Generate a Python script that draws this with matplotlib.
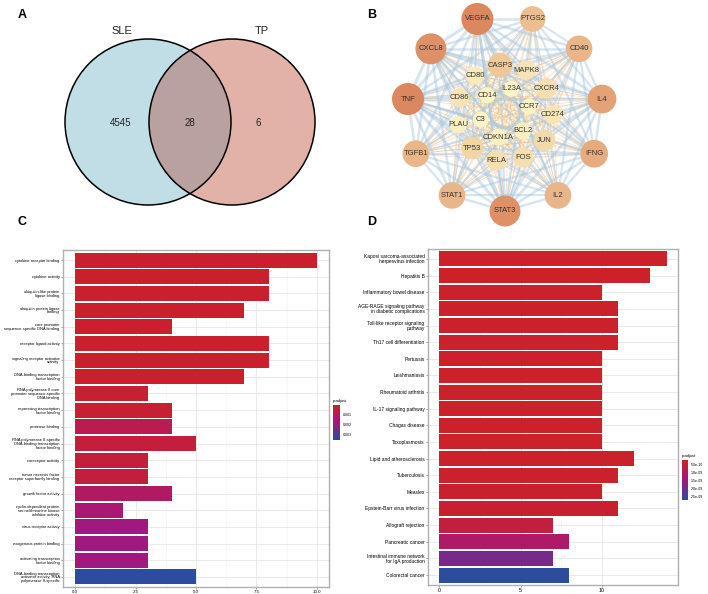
import numpy as np
import matplotlib
matplotlib.use("Agg")
import matplotlib.pyplot as plt
from matplotlib.patches import Circle
from matplotlib.collections import LineCollection
from matplotlib.colors import LinearSegmentedColormap, Normalize
from matplotlib.cm import ScalarMappable

plt.rcParams['font.family'] = ['Liberation Sans', 'DejaVu Sans']

# ---- data ----
venn_sets = ['SLE', 'TP']
venn_counts = [4545, 28, 6]   # SLE only, both, TP only

outer_nodes = ['STAT3', 'STAT1', 'TGFB1', 'TNF', 'CXCL8', 'VEGFA', 'PTGS2', 'CD40', 'IL4', 'IFNG', 'IL2']
outer_degree = [26, 22, 22, 27, 26, 27, 21, 22, 24, 23, 22]
middle_nodes = ['CASP3', 'MAPK8', 'CXCR4', 'CD274', 'JUN', 'FOS', 'RELA', 'TP53', 'PLAU', 'CD86', 'CD80']
middle_degree = [20, 15, 16, 15, 17, 16, 16, 18, 13, 15, 14]
inner_nodes = ['IL23A', 'CCR7', 'BCL2', 'CDKN1A', 'C3', 'CD14']
inner_degree = [12, 12, 13, 13, 12, 12]

go_terms = ['cytokine receptor binding', 'cytokine activity',
            'ubiquitin-like protein\nligase binding', 'ubiquitin protein ligase\nbinding',
            'core promoter\nsequence-specific DNA binding', 'receptor ligand activity',
            'signaling receptor activator\nactivity', 'DNA-binding transcription\nfactor binding',
            'RNA polymerase II core\npromoter sequence-specific\nDNA binding',
            'repressing transcription\nfactor binding', 'protease binding',
            'RNA polymerase II-specific\nDNA-binding transcription\nfactor binding',
            'coreceptor activity', 'tumor necrosis factor\nreceptor superfamily binding',
            'growth factor activity',
            'cyclin-dependent protein\nserine/threonine kinase\ninhibitor activity',
            'virus receptor activity', 'exogenous protein binding',
            'activating transcription\nfactor binding',
            'DNA-binding transcription\nactivator activity, RNA\npolymerase II-specific']
go_counts = [10, 8, 8, 7, 4, 8, 8, 7, 3, 4, 4, 5, 3, 3, 4, 2, 3, 3, 3, 5]
go_padj = [0.0002, 0.0002, 0.0002, 0.0002, 0.0002, 0.0002, 0.0002, 0.0002, 0.0003, 0.0003,
           0.0009, 0.0005, 0.0005, 0.0005, 0.0013, 0.0016, 0.0019, 0.0019, 0.0019, 0.0036]

kegg_terms = ['Kaposi sarcoma-associated\nherpesvirus infection', 'Hepatitis B',
              'Inflammatory bowel disease',
              'AGE-RAGE signaling pathway\nin diabetic complications',
              'Toll-like receptor signaling\npathway', 'Th17 cell differentiation',
              'Pertussis', 'Leishmaniasis', 'Rheumatoid arthritis', 'IL-17 signaling pathway',
              'Chagas disease', 'Toxoplasmosis', 'Lipid and atherosclerosis', 'Tuberculosis',
              'Measles', 'Epstein-Barr virus infection', 'Allograft rejection',
              'Pancreatic cancer', 'Intestinal immune network\nfor IgA production',
              'Colorectal cancer']
kegg_counts = [14, 13, 10, 11, 11, 11, 10, 10, 10, 10, 10, 10, 12, 11, 10, 11, 7, 8, 7, 8]
kegg_padj = [2.0e-10, 2.0e-10, 2.2e-10, 2.2e-10, 2.2e-10, 2.2e-10, 2.3e-10, 2.3e-10, 2.3e-10,
             2.3e-10, 2.3e-10, 2.3e-10, 2.3e-10, 2.5e-10, 2.8e-10, 3.0e-10, 5.0e-10,
             1.1e-09, 1.9e-09, 2.7e-09]

padj_cmap = LinearSegmentedColormap.from_list('padj', ['#cc2128', '#a3177f', '#2e4c9d'])
node_cmap = LinearSegmentedColormap.from_list('deg', ['#fbf4c6', '#efcd9c', '#db875f'])

fig = plt.figure(figsize=(7.08, 5.94), dpi=100)

# pixel-coordinate canvas for panels A and B
ax0 = fig.add_axes([0, 0, 1, 1])
ax0.set_xlim(0, 708)
ax0.set_ylim(594, 0)
ax0.axis('off')
ax0.patch.set_alpha(0)

for lab, x, y in [('A', 22, 15), ('B', 372, 15), ('C', 22, 222), ('D', 372, 222)]:
    ax0.text(x, y, lab, fontsize=9, fontweight='bold', ha='center', va='center')

# ---- A: venn ----
c1 = Circle((148, 122), 83, facecolor='#c1dee7', edgecolor='none')
c2 = Circle((232, 122), 83, facecolor='#e2b2a9', edgecolor='none')
ax0.add_patch(c1)
ax0.add_patch(c2)
ov = Circle((232, 122), 83, facecolor='#b9a1a0', edgecolor='none')
ax0.add_patch(ov)
ov.set_clip_path(c1)
for cx in (148, 232):
    ax0.add_patch(Circle((cx, 122), 83, facecolor='none', edgecolor='black', lw=1.1))
ax0.text(122, 31, venn_sets[0], fontsize=8, ha='center', va='center', color='#222222')
ax0.text(262, 31, venn_sets[1], fontsize=8, ha='center', va='center', color='#222222')
for x, v in zip((121, 190, 258), venn_counts):
    ax0.text(x, 123, str(v), fontsize=7, ha='center', va='center', color='#222222')

# ---- B: network (concentric layout) ----
cx, cy = 505, 113
names, degs, pos = [], [], []
for nodes, dg, r, start in [(outer_nodes, outer_degree, 98, 90),
                            (middle_nodes, middle_degree, 48, 264),
                            (inner_nodes, inner_degree, 25, 285)]:
    step = 360.0 / len(nodes)
    for k, (n, d) in enumerate(zip(nodes, dg)):
        a = np.deg2rad(start + k * step)
        names.append(n)
        degs.append(d)
        pos.append((cx + r * np.cos(a), cy + r * np.sin(a)))
degs = np.array(degs, dtype=float)
pos = np.array(pos)

segs, lws, cols = [], [], []
wmin = degs.min() ** 2
wmax = degs.max() ** 2
pairs = []
for i in range(len(names)):
    for j in range(i + 1, len(names)):
        w = (degs[i] * degs[j] - wmin) / (wmax - wmin)
        pairs.append((w, i, j))
pairs.sort()
for w, i, j in pairs:
    segs.append([pos[i], pos[j]])
    if w > 0.45:
        lws.append(0.5 + 1.8 * w)
        cols.append((0.66, 0.78, 0.87, 0.45))
    elif w > 0.2:
        lws.append(0.5)
        cols.append((0.95, 0.72, 0.50, 0.5))
    else:
        lws.append(0.4)
        cols.append((0.96, 0.88, 0.60, 0.5))
ax0.add_collection(LineCollection(segs, linewidths=lws, colors=cols, zorder=2))

dnorm = Normalize(12, 27)
for (x, y), n, d in zip(pos, names, degs):
    r = 8 + 8 * (d - 12) / 15
    ax0.add_patch(Circle((x, y), r, facecolor=node_cmap(dnorm(d)), edgecolor='none', zorder=3))
    ax0.text(x, y, n, fontsize=5.5, ha='center', va='center', color='#333333', zorder=4)


# ---- C and D: enrichment bar charts ----
def bar_panel(rect, terms, counts, padj, vmin, vmax, xmax, xticks, xticklabels, fs, cbar_rect, cticks, cticklabels):
    ax = fig.add_axes(rect)
    norm = Normalize(vmin, vmax)
    y = np.arange(len(terms))
    ax.barh(y, counts, height=0.9, color=padj_cmap(norm(np.array(padj))), zorder=3)
    ax.set_ylim(len(terms) - 0.4, -0.6)
    ax.set_xlim(-0.05 * xmax, 1.05 * xmax)
    ax.set_yticks(y)
    ax.set_yticklabels(terms, fontsize=fs, linespacing=0.95)
    ax.set_xticks(xticks)
    ax.set_xticklabels(xticklabels, fontsize=fs + 0.3)
    ax.set_xticks([(a + b) / 2 for a, b in zip(xticks[:-1], xticks[1:])], minor=True)
    ax.grid(True, which='major', color='#e6e6e6', lw=0.6, zorder=0)
    ax.grid(True, which='minor', axis='x', color='#f2f2f2', lw=0.4, zorder=0)
    ax.tick_params(axis='both', which='major', length=1.5, width=0.4, color='#555555', pad=1)
    ax.tick_params(axis='x', which='minor', length=0)
    for s in ax.spines.values():
        s.set_color('#b0b0b0')
        s.set_linewidth(1.0)
    cax = fig.add_axes(cbar_rect)
    cb = fig.colorbar(ScalarMappable(norm=norm, cmap=padj_cmap), cax=cax, ticks=cticks)
    cb.ax.set_yticklabels(cticklabels)
    cax.invert_yaxis()
    cb.outline.set_visible(False)
    cax.tick_params(labelsize=2.6, length=1, width=0.3, color='white', pad=1)
    cax.set_title('p.adjust', fontsize=3, loc='left', pad=2)
    return ax


bar_panel([63 / 708, 7 / 594, 266 / 708, 337 / 594], go_terms, go_counts, go_padj,
          0.0001, 0.0036, 10, [0, 2.5, 5, 7.5, 10], ['0.0', '2.5', '5.0', '7.5', '10.0'], 2.9,
          [333 / 708, 154 / 594, 7 / 708, 35 / 594],
          [0.001, 0.002, 0.003], ['0.001', '0.002', '0.003'])

bar_panel([428 / 708, 9 / 594, 250 / 708, 336 / 594], kegg_terms, kegg_counts, kegg_padj,
          1.9e-10, 2.7e-09, 14, [0, 5, 10], ['0', '5', '10'], 3.5,
          [682 / 708, 94 / 594, 6 / 708, 40 / 594],
          [5e-10, 1e-09, 1.5e-09, 2e-09, 2.5e-09],
          ['5.0e-10', '1.0e-09', '1.5e-09', '2.0e-09', '2.5e-09'])

plt.savefig('out.png', dpi=100)
